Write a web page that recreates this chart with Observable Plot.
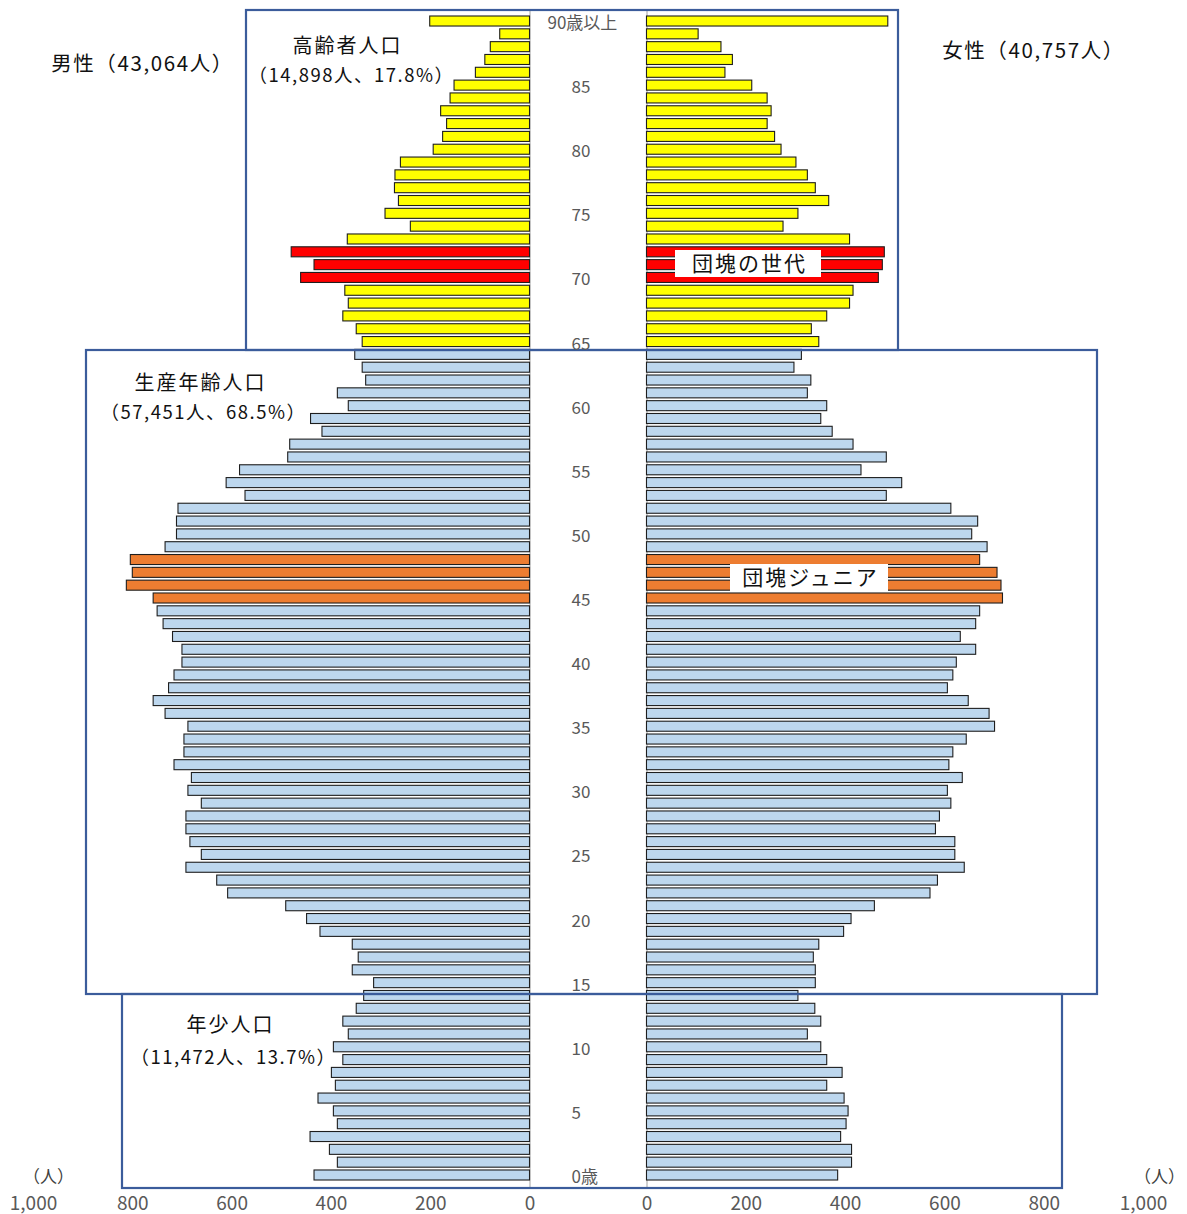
<!DOCTYPE html>
<html><head><meta charset="utf-8">
<script src="https://cdn.jsdelivr.net/npm/d3@7"></script>
<script src="https://cdn.jsdelivr.net/npm/@observablehq/plot@0.6"></script>
<style>
html,body{margin:0;padding:0;background:#fff;}
#chart{position:relative;width:1187px;height:1214px;}
</style></head><body><div id="chart"></div>
<script>
// ---- data (age 0 … 89, then 90歳以上) ----
const ages = d3.range(0, 91);
const male = [
  434,387,403,442,387,395,426,391,399,376,
  395,365,376,349,334,314,357,345,357,422,
  449,491,608,630,692,661,684,692,692,661,
  688,681,716,696,696,688,734,758,727,716,
  700,700,719,738,750,758,812,800,804,734,
  711,711,708,573,611,584,487,483,418,441,
  365,387,330,337,352,337,349,376,365,372,
  461,434,480,367,240,291,264,272,271,260,
  194,175,167,179,160,152,109,90,79,60,
  201
];
const female = [
  385,413,413,391,402,406,398,363,394,363,
  351,324,351,339,305,340,340,336,347,397,
  412,459,571,586,640,621,621,582,590,613,
  606,636,609,617,644,701,690,648,606,617,
  624,663,632,663,671,717,714,706,671,686,
  655,667,613,483,514,432,483,416,374,351,
  363,324,331,297,312,347,332,363,409,416,
  467,475,479,409,275,305,367,340,324,301,
  271,258,243,251,243,212,158,173,150,104,
  486
];
const ageTickValues = [0,5,10,15,20,25,30,35,40,45,50,55,60,65,70,75,80,85,90];
const ageTickLabels = ["0歳","5","10","15","20","25","30","35","40","45","50","55","60","65","70","75","80","85","90歳以上"];
const xTickValues = [0,200,400,600,800,1000];
const maleTitle = "男性（43,064人）";
const femaleTitle = "女性（40,757人）";
const groupNames = ["高齢者人口","生産年齢人口","年少人口"];
const groupStats = ["（14,898人、17.8%）","（57,451人、68.5%）","（11,472人、13.7%）"];
const cohortNames = ["団塊の世代","団塊ジュニア"];
const unitLabel = "（人）";

// ---- layout helpers ----
const W = 1187, H = 1214;
const G = 117.8;                       // half of the central gap, in data units
const K = 1110 / (2000 + 2 * G);       // px per person
const px2x = px => (px - 588) / K;
const STEP = 1166.8 / 91;
const py2y = py => (1181.4 - py) / STEP - 0.5;

const colorFor = a => {
  if (a >= 70 && a <= 72) return "#FF0000";
  if (a >= 65) return "#FFFF00";
  if (a >= 45 && a <= 48) return "#ED7D31";
  return "#BDD7EE";
};

const rows = [];
ages.forEach((a, i) => {
  rows.push({age: a, side: "m", v: male[i]});
  rows.push({age: a, side: "f", v: female[i]});
});
const ageTicks = ageTickValues.map((a, i) => ({age: a, label: ageTickLabels[i]}));
const xTickPos = [...xTickValues.map(v => -(v + G)), ...xTickValues.map(v => v + G)];

const BOX = "#3B5C9B";
const FONT = "'Noto Sans CJK JP', 'Noto Sans', sans-serif";

const boxes = [
  {x1: px2x(246), x2: px2x(898),  y1: py2y(350),  y2: py2y(10)},
  {x1: px2x(86),  x2: px2x(1097), y1: py2y(994),  y2: py2y(350)},
  {x1: px2x(122), x2: px2x(1062), y1: py2y(1188), y2: py2y(994)}
];
const groupLabelPos = [
  {name: [347, 46], stat: [351, 76]},
  {name: [200, 383], stat: [203, 413]},
  {name: [230, 1025], stat: [233, 1058]}
];
const groupTexts = [];
groupNames.forEach((n, i) => {
  groupTexts.push({t: n, x: px2x(groupLabelPos[i].name[0]), y: py2y(groupLabelPos[i].name[1]), big: true});
  groupTexts.push({t: groupStats[i], x: px2x(groupLabelPos[i].stat[0]), y: py2y(groupLabelPos[i].stat[1]), big: false});
});
const cohortBoxes = [
  {x1: px2x(675), x2: px2x(821), y1: py2y(277), y2: py2y(250), t: cohortNames[0], cx: px2x(749), cy: py2y(264)},
  {x1: px2x(730), x2: px2x(888), y1: py2y(592), y2: py2y(564), t: cohortNames[1], cx: px2x(810), cy: py2y(578)}
];

const svg = Plot.plot({
  width: W, height: H,
  marginLeft: 33, marginRight: 44, marginTop: 14.6, marginBottom: 32.6,
  x: {domain: [-(1000 + G), 1000 + G], axis: null},
  y: {domain: [-0.5, 90.5], axis: null},
  style: {fontFamily: FONT, color: "#595959", background: "#fff"},
  marks: [
    Plot.ruleX([-G, G], {y1: py2y(1187), y2: py2y(11), stroke: "#D0D0D0", strokeWidth: 2}),
    Plot.rect(rows, {
      x1: d => d.side === "m" ? -G : G,
      x2: d => d.side === "m" ? -(G + d.v) : G + d.v,
      y1: d => d.age - 0.5, y2: d => d.age + 0.5,
      insetTop: 1.4, insetBottom: 1.4,
      fill: d => colorFor(d.age), stroke: "#1e1e1e", strokeWidth: 1.1
    }),
    Plot.rect(boxes, {x1: "x1", x2: "x2", y1: "y1", y2: "y2", fill: "none", stroke: BOX, strokeWidth: 2.2}),
    Plot.text(ageTicks, {
      x: d => d.label === "90歳以上" ? px2x(547) : px2x(571), y: "age", text: "label",
      textAnchor: "start", fill: "#595959", fontSize: 17, dy: 2
    }),
    Plot.axisX(xTickPos, {
      tickFormat: d => d3.format(",")(Math.round(Math.abs(d) - G)),
      tickSize: 0, tickPadding: 15, fontSize: 19, fill: "#595959", label: null
    }),
    Plot.text([unitLabel, unitLabel], {
      x: (d, i) => i === 0 ? px2x(48) : px2x(1159), y: py2y(1177),
      text: d => d, fill: "#404040", fontSize: 17
    }),
    Plot.text([maleTitle, femaleTitle], {
      x: (d, i) => i === 0 ? px2x(142) : px2x(1033), y: (d, i) => i === 0 ? py2y(64) : py2y(51),
      text: d => d, fill: "#111", fontSize: 20.5
    }),
    Plot.text(groupTexts, {x: "x", y: "y", text: "t", fill: "#111", fontSize: d => d.big ? 20 : 18.5}),
    Plot.rect(cohortBoxes, {x1: "x1", x2: "x2", y1: "y1", y2: "y2", fill: "#fff"}),
    Plot.text(cohortBoxes, {x: "cx", y: "cy", text: "t", fill: "#111", fontSize: 21})
  ]
});

// letter spacing for the Japanese headline labels
d3.select(svg).selectAll("text").each(function() {
  const t = this.textContent;
  if (groupNames.includes(t) || cohortNames.includes(t)) this.setAttribute("letter-spacing", "2");
  if (t === maleTitle || t === femaleTitle) this.setAttribute("letter-spacing", "1.6");
  if (groupStats.includes(t)) this.setAttribute("letter-spacing", "1.5");
});
document.getElementById("chart").appendChild(svg);
</script></body></html>
